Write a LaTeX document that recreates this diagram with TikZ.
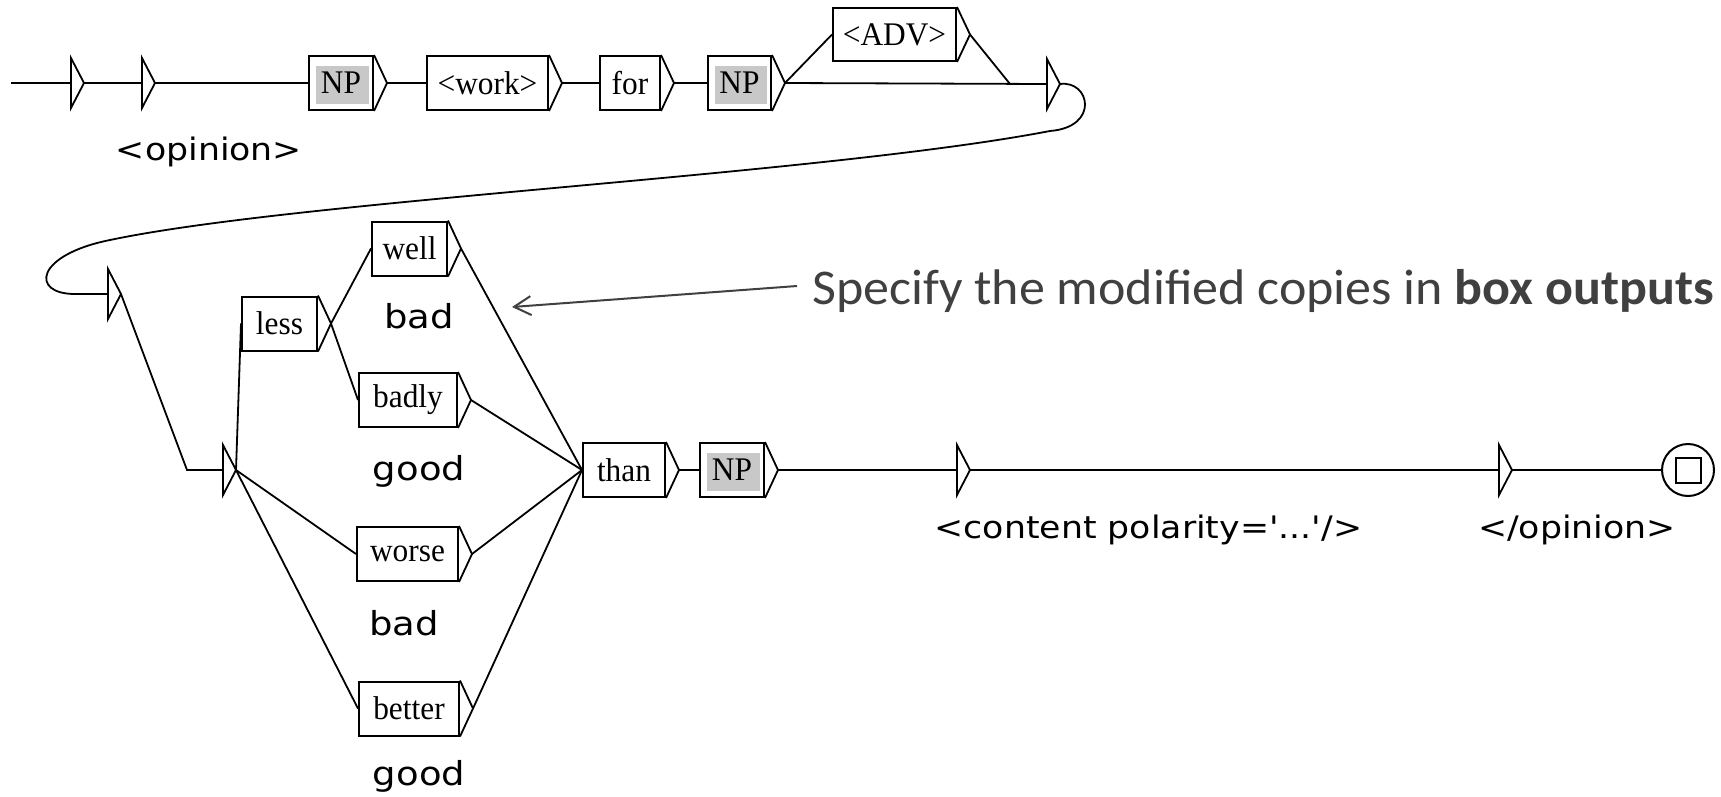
\documentclass[tikz,border=0pt]{standalone}
\usepackage{fontspec}
\setmainfont{Liberation Serif}
\newfontfamily\boxfont[FakeStretch=0.95]{Liberation Serif}
\newfontfamily\outfont[FakeStretch=1.12,Ligatures=TeXOff]{DejaVu Sans}
\newfontfamily\notefont[FakeStretch=1.04]{Carlito}
\usetikzlibrary{arrows.meta,calc}
\definecolor{npgray}{RGB}{200,200,200}
\definecolor{notegray}{RGB}{64,64,64}
\tikzset{
  bx/.style={draw, line width=2pt, minimum height=54pt, inner sep=0pt,
    font=\boxfont\fontsize{33}{36}\selectfont},
  npbx/.style={bx, path picture={\fill[npgray]
    ([shift={(7pt,-10pt)}]path picture bounding box.north west) rectangle
    ([shift={(-4pt,6pt)}]path picture bounding box.south east);}},
  conn/.style={line width=1.8pt},
  tri/.style={line width=1.8pt, line join=miter},
  outlbl/.style={font=\outfont\fontsize{31}{34}\selectfont, anchor=base, inner sep=0pt},
  wordlbl/.style={font=\outfont\fontsize{33}{36}\selectfont, anchor=base, inner sep=0pt},
}
\newcommand\boxout[1]{\draw[tri] (#1.north east) -- ([xshift=13pt]#1.east) coordinate (#1-o) -- (#1.south east);}
\newcommand\statetri[2]{\coordinate (#1) at #2;
  \draw[tri] ([yshift=25pt]#1) -- ([xshift=13pt]#1) coordinate (#1-o) -- ([yshift=-25pt]#1) -- cycle;}
\begin{document}
\begin{tikzpicture}[x=1pt,y=-1pt]
\useasboundingbox (0,0) rectangle (1721,796);
% ---- top row
\coordinate (start) at (11,83);
\statetri{s1}{(71,83)}
\statetri{s2}{(142,83)}
\node[npbx, minimum width=64pt] (np1) at (341,83) {NP};
\node[bx, minimum width=121pt] (work) at (487.5,83) {<work>};
\node[bx, minimum width=60pt] (for) at (630,83) {for};
\node[npbx, minimum width=63pt] (np2) at (739.5,83) {NP};
\node[bx, minimum width=123pt, minimum height=53pt] (adv) at (894.5,34.5) {<ADV>};
\statetri{s3}{(1047,84)}
\boxout{np1}\boxout{work}\boxout{for}\boxout{np2}\boxout{adv}
\coordinate (b1) at (1010,84);
\draw[conn] (start) -- (s1);
\draw[conn] (s1-o) -- (s2);
\draw[conn] (s2-o) -- (np1.west);
\draw[conn] (np1-o) -- (work.west);
\draw[conn] (work-o) -- (for.west);
\draw[conn] (for-o) -- (np2.west);
\draw[conn] (np2-o) -- (s3);
\draw[conn] (np2-o) -- (adv.west);
\draw[conn] (adv-o) -- (b1) -- (s3);
\node[outlbl] (lop) at (209,160) {<opinion>};
% ---- loop back
\statetri{s5}{(108,294)}
\coordinate (c1) at (1050,131);
\coordinate (c2) at (110,240);
\coordinate (c3) at (75,294);
\draw[conn] (s3-o) .. controls (1090,80) and (1100,127) .. (c1)
  .. controls (820,175) and (300,200) .. (c2)
  .. controls (35,255) and (30,294) .. (c3) -- (s5);
% ---- lower part
\statetri{s6}{(223,470)}
\coordinate (b2) at (187,470);
\draw[conn] (s5-o) -- (b2) -- (s6);
\node[bx, minimum width=75pt] (less) at (279.5,323.5) {less};
\node[bx, minimum width=75pt] (well) at (409.5,248.5) {well};
\node[bx, minimum width=98pt] (badly) at (408,400) {badly};
\node[bx, minimum width=101pt] (worse) at (407.5,554) {worse};
\node[bx, minimum width=100pt] (better) at (409,708.5) {better};
\node[bx, minimum width=82pt] (than) at (624,470) {than};
\node[npbx, minimum width=64pt] (np3) at (732,470) {NP};
\boxout{less}\boxout{well}\boxout{badly}\boxout{worse}\boxout{better}\boxout{than}\boxout{np3}
\statetri{s7}{(957,470)}
\statetri{s8}{(1499,470)}
\node[circle, draw, line width=2pt, minimum size=52pt, inner sep=0pt] (fin) at (1688,470) {};
\node[draw, line width=2pt, minimum size=25pt, inner sep=0pt] (finsq) at (fin.center) {};
\draw[conn] (s6-o) -- (less.west);
\draw[conn] (s6-o) -- (worse.west);
\draw[conn] (s6-o) -- (better.west);
\draw[conn] (less-o) -- (well.west);
\draw[conn] (less-o) -- (badly.west);
\draw[conn] (well-o) -- (than.west);
\draw[conn] (badly-o) -- (than.west);
\draw[conn] (worse-o) -- (than.west);
\draw[conn] (better-o) -- (than.west);
\draw[conn] (than-o) -- (np3.west);
\draw[conn] (np3-o) -- (s7);
\draw[conn] (s7-o) -- (s8);
\draw[conn] (s8-o) -- (fin.west);
% ---- outputs
\node[wordlbl] (o1) at (419,328) {bad};
\node[wordlbl] (o2) at (419,480) {good};
\node[wordlbl] (o3) at (404,635) {bad};
\node[wordlbl] (o4) at (419,785) {good};
\node[outlbl] (lcont) at (1148.5,538) {<content polarity='...'/>};
\node[outlbl] (lclose) at (1577,538) {</opinion>};
% ---- annotation
\node[font=\notefont\fontsize{50}{54}\selectfont, text=notegray, anchor=base west, inner sep=0pt] (note) at (812,304) {Specify the modified copies in \textbf{box outputs}};
\coordinate (aS) at (797,286);
\coordinate (aE) at (512,307);
\draw[notegray, line width=2pt, -{Straight Barb[length=17pt,width=19pt]}] (aS) -- (aE);
\end{tikzpicture}
\end{document}
